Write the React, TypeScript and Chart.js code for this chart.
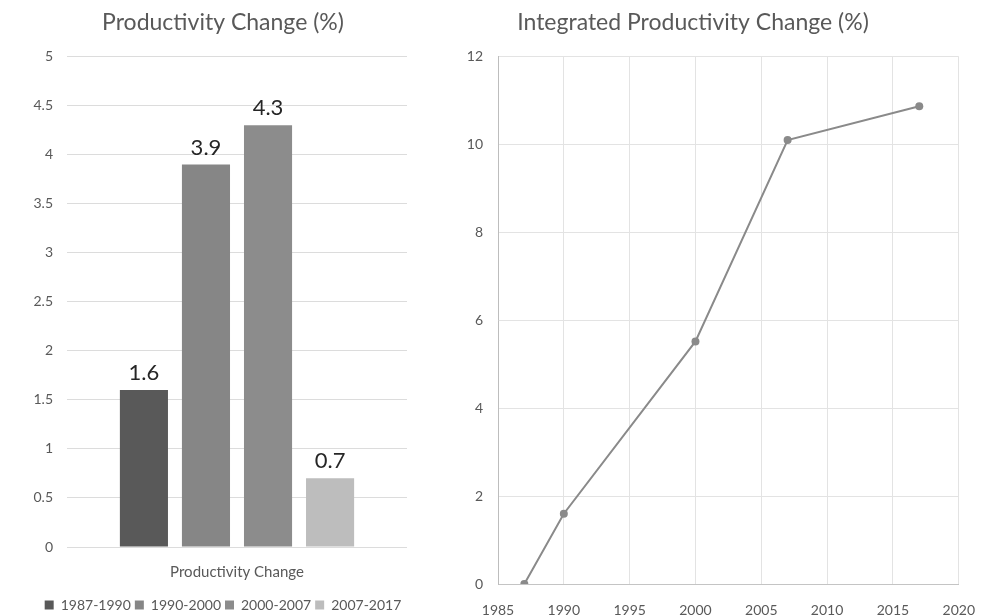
import React, { useEffect, useRef } from "react";
import { Chart, registerables } from "chart.js";

Chart.register(...registerables);

// ---- Data ----
const periods = ["1987-1990", "1990-2000", "2000-2007", "2007-2017"];
const productivityChange = [1.6, 3.9, 4.3, 0.7];
const barCategory = ["Productivity Change"];
const leftYRange = [0, 5];
const leftYStep = 0.5;

const years = [1987, 1990, 2000, 2007, 2017];
const integratedChange = [0, 1.6, 5.52, 10.1, 10.87];
const rightXRange = [1985, 2020];
const rightXStep = 5;
const rightYRange = [0, 12];
const rightYStep = 2;

// ---- Styles ----
const barColors = ["#595959", "#868686", "#8c8c8c", "#bdbdbd"];
const FONT = "Lato, 'Open Sans', sans-serif";
const TEXT = "#595959";

const barLabelPlugin = {
  id: "barLabels",
  afterDatasetsDraw(chart: any) {
    const ctx = chart.ctx;
    ctx.save();
    ctx.font = `22px ${FONT}`;
    ctx.fillStyle = "#262626";
    ctx.textAlign = "center";
    ctx.textBaseline = "bottom";
    chart.data.datasets.forEach((ds: any, i: number) => {
      const meta = chart.getDatasetMeta(i);
      meta.data.forEach((el: any, j: number) => {
        ctx.fillText(String(ds.data[j]), el.x, el.y - 6);
      });
    });
    ctx.restore();
  },
};

export default function App() {
  const leftRef = useRef<HTMLCanvasElement>(null);
  const rightRef = useRef<HTMLCanvasElement>(null);

  useEffect(() => {
    const left = new Chart(leftRef.current as HTMLCanvasElement, {
      type: "bar",
      data: {
        labels: barCategory,
        datasets: periods.map((p, i) => ({
          label: p,
          data: [productivityChange[i]],
          backgroundColor: barColors[i],
          borderWidth: 0,
        })),
      },
      options: {
        responsive: false,
        animation: false,
        devicePixelRatio: 1,
        layout: { padding: { left: 10, right: 14, top: 0, bottom: 0 } },
        datasets: { bar: { categoryPercentage: 0.73, barPercentage: 0.775 } },
        plugins: {
          title: {
            display: true,
            text: "Productivity Change (%)",
            color: TEXT,
            font: { family: FONT, size: 23, weight: "normal" },
            padding: { top: 9, bottom: 20 },
          },
          legend: {
            display: true,
            position: "bottom",
            labels: {
              font: { family: FONT, size: 14 },
              color: TEXT,
              boxWidth: 9,
              boxHeight: 9,
              padding: 4,
            },
          },
          tooltip: { enabled: false },
        },
        scales: {
          x: {
            grid: { display: false },
            border: { display: false },
            ticks: { font: { family: FONT, size: 15 }, color: TEXT, padding: 8 },
            afterFit: (s: any) => {
              s.height = 47;
            },
          },
          y: {
            min: leftYRange[0],
            max: leftYRange[1],
            ticks: {
              stepSize: leftYStep,
              font: { family: FONT, size: 14 },
              color: TEXT,
              padding: 14,
              callback: (v: any) => String(v),
            },
            grid: { color: "#dcdcdc", drawTicks: false },
            border: { display: false },
            afterFit: (s: any) => {
              s.width = 57;
            },
          },
          yRightSpace: {
            position: "right",
            display: true,
            min: leftYRange[0],
            max: leftYRange[1],
            grid: { display: false, drawOnChartArea: false },
            border: { display: false },
            ticks: { display: false },
            afterFit: (s: any) => {
              s.width = 29;
            },
          },
        },
      },
      plugins: [barLabelPlugin],
    } as any);

    const right = new Chart(rightRef.current as HTMLCanvasElement, {
      type: "line",
      data: {
        datasets: [
          {
            label: "Integrated Productivity Change (%)",
            data: years.map((y, i) => ({ x: y, y: integratedChange[i] })),
            borderColor: "#8a8a8a",
            backgroundColor: "#8a8a8a",
            borderWidth: 2,
            pointRadius: 4,
            pointBorderWidth: 0,
            pointBackgroundColor: "#8a8a8a",
            tension: 0,
          },
        ],
      },
      options: {
        responsive: false,
        animation: false,
        devicePixelRatio: 1,
        layout: { padding: { left: 0, right: 33, top: 0, bottom: 0 } },
        plugins: {
          title: {
            display: true,
            text: "Integrated Productivity Change (%)",
            color: TEXT,
            font: { family: FONT, size: 23, weight: "normal" },
            padding: { top: 9, bottom: 20 },
          },
          legend: { display: false },
          tooltip: { enabled: false },
        },
        scales: {
          x: {
            type: "linear",
            min: rightXRange[0],
            max: rightXRange[1],
            ticks: {
              stepSize: rightXStep,
              font: { family: FONT, size: 14 },
              color: TEXT,
              padding: 18,
              callback: (v: any) => String(v),
            },
            grid: { color: "#e3e3e3", drawTicks: false },
            border: { color: "#c4c4c4" },
            afterFit: (s: any) => {
              s.height = 38;
            },
          },
          y: {
            min: rightYRange[0],
            max: rightYRange[1],
            ticks: {
              stepSize: rightYStep,
              font: { family: FONT, size: 14 },
              color: TEXT,
              padding: 15,
              callback: (v: any) => String(v),
            },
            grid: { color: "#e3e3e3", drawTicks: false },
            border: { color: "#bdbdbd" },
            afterFit: (s: any) => {
              s.width = 72;
            },
          },
        },
      },
    } as any);

    return () => {
      left.destroy();
      right.destroy();
    };
  }, []);

  return (
    <div
      style={{
        position: "fixed",
        left: 0,
        top: 0,
        width: 999,
        height: 616,
        overflow: "hidden",
        background: "#ffffff",
      }}
    >
      <canvas
        ref={leftRef}
        width={450}
        height={622}
        style={{ position: "absolute", left: 0, top: 0, width: 450, height: 622 }}
      />
      <canvas
        ref={rightRef}
        width={567}
        height={622}
        style={{ position: "absolute", left: 426, top: 0, width: 567, height: 622 }}
      />
    </div>
  );
}
